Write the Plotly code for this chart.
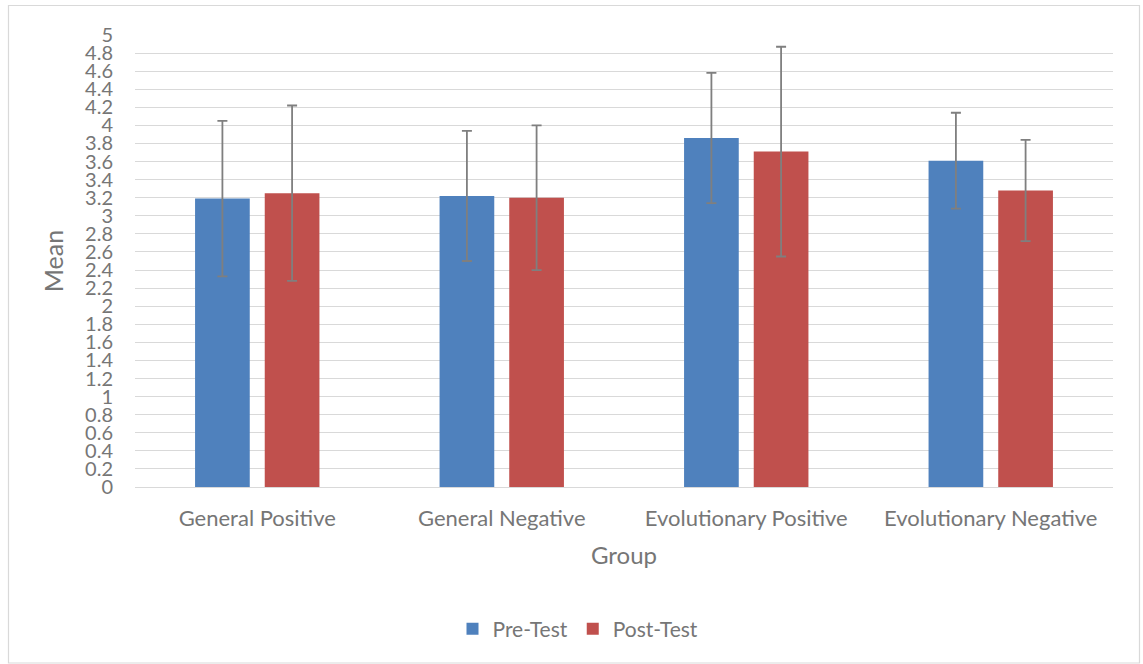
import plotly.graph_objects as go

groups = ["General Positive", "General Negative", "Evolutionary Positive", "Evolutionary Negative"]
pre_mean = [3.19, 3.22, 3.86, 3.61]
pre_sd = [0.86, 0.72, 0.72, 0.53]
post_mean = [3.25, 3.20, 3.71, 3.28]
post_sd = [0.97, 0.80, 1.16, 0.56]
y_ticks = [round(i * 0.2, 1) for i in range(26)]
y_ticktext = [("%g" % v) for v in y_ticks]

font_family = "Lato, Open Sans, sans-serif"
text_color = "#767676"
err_color = "#7f7f7f"

fig = go.Figure()
fig.add_trace(go.Bar(
    name="Pre-Test", x=groups, y=pre_mean,
    marker=dict(color="#4f81bd", line=dict(width=0)),
    error_y=dict(type="data", array=pre_sd, visible=True, color=err_color, thickness=1.8, width=5),
))
fig.add_trace(go.Bar(
    name="Post-Test", x=groups, y=post_mean,
    marker=dict(color="#c0504d", line=dict(width=0)),
    error_y=dict(type="data", array=post_sd, visible=True, color=err_color, thickness=1.8, width=5),
))

L, R, T, B = 135, 30, 35, 177
W, H = 1143, 664
pw, ph = W - L - R, H - T - B

fig.update_layout(
    width=W, height=H,
    margin=dict(l=L, r=R, t=T, b=B),
    plot_bgcolor="white", paper_bgcolor="white",
    barmode="group", bargap=0.43, bargroupgap=0.215,
    font=dict(family=font_family, color=text_color, size=21),
    showlegend=True,
    legend=dict(orientation="h", x=(578 - L) / pw, xanchor="center", y=-142 / ph, yanchor="middle",
                font=dict(size=21, color=text_color), itemwidth=30),
    xaxis=dict(
        title=dict(text="Group", font=dict(size=24, color=text_color), standoff=16),
        tickfont=dict(size=22, color=text_color),
        showgrid=False, showline=True, linecolor="#d9d9d9", linewidth=1,
        ticks="", ticklabelstandoff=12,
    ),
    yaxis=dict(
        title=dict(text="Mean", font=dict(size=25, color=text_color), standoff=14),
        range=[0, 5], tickvals=y_ticks, ticktext=y_ticktext,
        tickfont=dict(size=20, color=text_color),
        showgrid=True, gridcolor="#d9d9d9", gridwidth=1,
        zeroline=False, showline=False, ticks="", ticklabelstandoff=21,
    ),
)

fig.add_shape(
    type="rect", xref="paper", yref="paper",
    x0=(8.5 - L) / pw, x1=(1139.5 - L) / pw,
    y0=(H - B - 663) / ph, y1=(H - B - 5.5) / ph,
    line=dict(color="#d9d9d9", width=1.2), fillcolor="rgba(0,0,0,0)", layer="below",
)

fig.write_html("out.html", config={"displayModeBar": False},
               post_script="document.body.style.margin='0';document.body.style.overflow='hidden';")
